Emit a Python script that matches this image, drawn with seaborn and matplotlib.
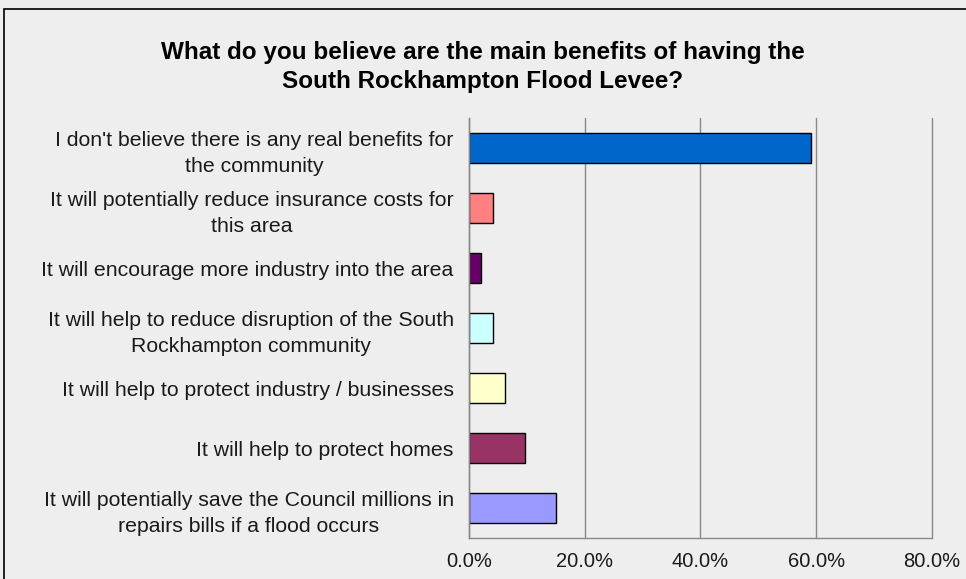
import matplotlib
matplotlib.use("Agg")
import matplotlib.pyplot as plt
import seaborn as sns
import pandas as pd
from matplotlib.ticker import FuncFormatter
from matplotlib.patches import Rectangle

categories = [
    "I don't believe there is any real benefits for\nthe community",
    "It will potentially reduce insurance costs for\nthis area",
    "It will encourage more industry into the area",
    "It will help to reduce disruption of the South\nRockhampton community",
    "It will help to protect industry / businesses",
    "It will help to protect homes",
    "It will potentially save the Council millions in\nrepairs bills if a flood occurs",
]
values = [59.1, 4.1, 2.0, 4.1, 6.2, 9.6, 15.0]
colors = ["#0066CC", "#FF8080", "#660066", "#CCFFFF", "#FFFFCC", "#993366", "#9999FF"]

df = pd.DataFrame({"benefit": categories, "pct": values})

sns.set_style("white")
plt.rcParams["font.family"] = ["Liberation Sans", "DejaVu Sans"]

fig = plt.figure(figsize=(9.66, 5.79), dpi=100)
fig.patch.set_facecolor("#EEEEEE")
ax = fig.add_axes([0.4855, 0.0708, 0.9648 - 0.4855, 0.796 - 0.0708])
ax.set_facecolor("#EEEEEE")

sns.barplot(data=df, y="benefit", x="pct", hue="benefit", palette=colors,
            saturation=1, legend=False, width=0.5, edgecolor="black",
            linewidth=1.0, ax=ax)

ax.set_xlim(0, 80)
ax.set_ylim(6.5, -0.5)
ax.set_xticks([0, 20, 40, 60, 80])
ax.xaxis.set_major_formatter(FuncFormatter(lambda v, p: f"{v:.1f}%"))
ax.grid(axis="x", color="#888888", linewidth=1)
for gl in ax.get_xgridlines():
    gl.set_clip_on(False)
ax.set_axisbelow(True)
ax.set_xlabel("")
ax.set_ylabel("")

# y ticks sit on category boundaries
ax.set_yticks(range(len(categories)))
ax.set_yticklabels(categories, multialignment="center", linespacing=1.45)
ax.tick_params(axis="y", length=0, pad=11, labelsize=15.3, colors="#1a1a1a")
ax.set_yticks([i + 0.5 for i in range(-1, len(categories))], minor=True)
ax.tick_params(axis="y", which="minor", length=6, color="#888888", direction="out")
ax.tick_params(axis="x", length=7, color="#888888", direction="out",
               labelsize=14.5, labelcolor="#1a1a1a", pad=3)

for s in ["top", "right"]:
    ax.spines[s].set_visible(False)
for s in ["left", "bottom"]:
    ax.spines[s].set_color("#888888")
    ax.spines[s].set_linewidth(1)

fig.text(0.5, 0.884, "What do you believe are the main benefits of having the\nSouth Rockhampton Flood Levee?",
         ha="center", va="center", fontsize=17.5, fontweight="bold",
         linespacing=1.3, color="black")

fig.patches.append(Rectangle((4 / 966, -0.1), 1.2, (579 - 9) / 579 + 0.1,
                             transform=fig.transFigure, fill=False,
                             edgecolor="black", linewidth=1.2))

fig.savefig("out.png", dpi=100, facecolor=fig.get_facecolor())
